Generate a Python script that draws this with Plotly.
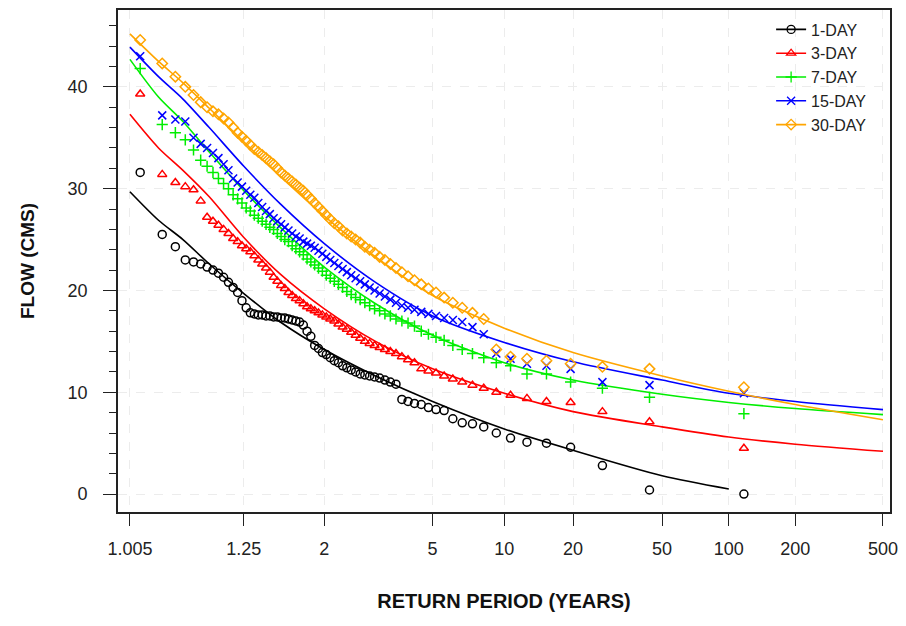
import numpy as np
import plotly.graph_objects as go

# ---------------- data ----------------
N_YEARS = 70  # observations per series (ranked, lowest flow first)

SERIES_NAMES = ["1-DAY", "3-DAY", "7-DAY", "15-DAY", "30-DAY"]

ONE_DAY = [0.0, 0.4, 2.8, 4.6, 5.0, 5.1, 5.5, 6.0, 6.6, 6.9,
           7.0, 7.4, 8.2, 8.3, 8.5, 8.8, 8.9, 9.1, 9.3, 10.8,
           11.0, 11.2, 11.4, 11.5, 11.6, 11.7, 11.8, 12.0, 12.2, 12.4,
           12.6, 12.9, 13.1, 13.4, 13.7, 13.9, 14.3, 14.6, 15.5, 16.0,
           16.6, 16.9, 17.0, 17.1, 17.2, 17.3, 17.3, 17.4, 17.4, 17.5,
           17.5, 17.6, 17.6, 17.7, 17.8, 18.3, 19.0, 19.8, 20.3, 20.8,
           21.3, 21.7, 22.0, 22.3, 22.6, 22.8, 23.0, 24.3, 25.5, 31.6]

THREE_DAY = [4.5, 7.1, 8.1, 9.0, 9.1, 9.4, 9.7, 10.0, 10.4, 10.7,
             11.0, 11.3, 11.6, 11.9, 12.1, 12.3, 12.9, 13.2, 13.5, 13.8,
             14.0, 14.2, 14.4, 14.6, 14.8, 15.0, 15.3, 15.6, 15.9, 16.2,
             16.4, 16.7, 17.0, 17.2, 17.4, 17.6, 17.8, 18.0, 18.2, 18.4,
             18.7, 19.0, 19.2, 19.5, 19.8, 20.2, 20.5, 20.9, 21.3, 21.8,
             22.2, 22.6, 23.0, 23.4, 23.8, 24.1, 24.4, 24.8, 25.1, 25.6,
             26.0, 26.4, 26.8, 27.2, 28.8, 29.9, 30.2, 30.6, 31.4, 39.3]

SEVEN_DAY = [7.9, 9.5, 10.4, 11.0, 11.8, 11.8, 12.6, 12.9, 13.4, 13.8,
             14.2, 14.6, 15.1, 15.4, 15.7, 16.0, 16.5, 16.8, 17.0, 17.2,
             17.5, 17.7, 18.0, 18.2, 18.5, 18.8, 19.1, 19.3, 19.6, 19.9,
             20.3, 20.6, 20.9, 21.2, 21.5, 21.9, 22.2, 22.5, 22.8, 23.1,
             23.5, 23.8, 24.1, 24.4, 24.8, 25.0, 25.3, 25.6, 26.0, 26.2,
             26.5, 26.8, 27.1, 27.4, 27.8, 28.1, 28.6, 29.0, 29.4, 30.0,
             30.5, 31.0, 31.6, 32.2, 32.8, 33.8, 34.8, 35.5, 36.3, 41.8]

FIFTEEN_DAY = [9.9, 10.7, 11.0, 12.3, 12.6, 12.8, 13.3, 13.8, 15.7, 16.4,
               16.9, 17.1, 17.3, 17.5, 17.7, 17.9, 18.1, 18.3, 18.5, 18.8,
               19.1, 19.4, 19.7, 20.0, 20.3, 20.6, 20.9, 21.2, 21.5, 21.8,
               22.1, 22.4, 22.7, 23.0, 23.3, 23.6, 23.9, 24.2, 24.4, 24.6,
               24.8, 25.1, 25.3, 25.6, 25.9, 26.2, 26.5, 26.8, 27.1, 27.5,
               27.8, 28.2, 28.6, 29.1, 29.4, 29.8, 30.2, 30.6, 31.0, 31.8,
               32.4, 33.0, 33.5, 34.0, 34.4, 35.0, 36.6, 36.8, 37.2, 43.0]

THIRTY_DAY = [10.5, 12.3, 12.5, 12.8, 13.1, 13.3, 13.5, 14.2, 17.2, 17.8,
              18.3, 18.8, 19.3, 19.8, 20.2, 20.6, 21.0, 21.4, 21.8, 22.2,
              22.6, 23.0, 23.3, 23.7, 24.0, 24.3, 24.7, 25.0, 25.3, 25.6,
              25.9, 26.3, 26.6, 27.0, 27.4, 27.8, 28.2, 28.6, 29.0, 29.4,
              29.8, 30.1, 30.4, 30.7, 31.0, 31.3, 31.6, 32.0, 32.4, 32.7,
              33.0, 33.3, 33.6, 33.9, 34.3, 34.7, 35.1, 35.5, 36.0, 36.5,
              36.9, 37.3, 37.6, 38.0, 38.5, 39.2, 40.0, 41.0, 42.3, 44.6]

# fitted frequency curves (flow at given return period)
CURVE_T = [1.005, 1.02, 1.05, 1.11, 1.25, 1.5, 2, 3, 5, 10, 20, 50, 100, 200, 500]
CURVE_1 = [29.7, 26.9, 25.0, 22.6, 19.7, 16.9, 14.2, 11.6, 9.1, 6.4, 4.3, 1.8, 0.5]
CURVE_3 = [37.3, 34.0, 31.8, 29.2, 25.2, 21.6, 18.2, 15.0, 12.3, 9.9, 8.1, 6.6, 5.6, 4.9, 4.2]
CURVE_7 = [42.7, 39.0, 36.6, 33.6, 29.8, 26.2, 22.3, 18.7, 15.6, 12.9, 11.2, 9.8, 9.0, 8.4, 7.8]
CURVE_15 = [43.9, 41.0, 38.8, 36.0, 32.2, 28.5, 24.6, 20.8, 17.5, 14.9, 13.0, 11.2, 9.9, 9.1, 8.3]
CURVE_30 = [45.2, 42.5, 40.4, 37.9, 34.6, 31.2, 27.3, 23.3, 19.5, 16.3, 13.9, 11.6, 10.1, 8.8, 7.3]

TICK_T = [1.005, 1.25, 2, 5, 10, 20, 50, 100, 200, 500]
TICK_LABELS = ["1.005", "1.25", "2", "5", "10", "20", "50", "100", "200", "500"]

COLORS = ["#000000", "#FF0000", "#00EE00", "#0000FF", "#FFA500"]
SYMBOLS = ["circle-open", "triangle-up-open", "cross-thin-open", "x-thin-open", "diamond-open"]


# ---------------- helpers ----------------
def gumbel(T):
    T = np.asarray(T, dtype=float)
    return -np.log(-np.log(1.0 - 1.0 / T))


rank = np.arange(1, N_YEARS + 1)
T_obs = (N_YEARS + 0.2) / (rank - 0.4)  # Cunnane plotting position
x_obs = gumbel(T_obs)

obs = [ONE_DAY, THREE_DAY, SEVEN_DAY, FIFTEEN_DAY, THIRTY_DAY]
curves = [CURVE_1, CURVE_3, CURVE_7, CURVE_15, CURVE_30]

fig = go.Figure()

for name, q, c, col, sym in zip(SERIES_NAMES, obs, curves, COLORS, SYMBOLS):
    assert len(q) == N_YEARS
    cx = gumbel(CURVE_T[:len(c)])
    fig.add_trace(go.Scatter(
        x=cx, y=c, mode="lines", line=dict(color=col, width=1.6, shape="spline", smoothing=0.8),
        showlegend=False, hoverinfo="skip"))
    fig.add_trace(go.Scatter(
        x=x_obs, y=q, mode="markers",
        marker=dict(symbol=sym, size=8, color=col, line=dict(color=col, width=1.5)),
        showlegend=False))

# legend entries
for name, col, sym in zip(SERIES_NAMES, COLORS, SYMBOLS):
    fig.add_trace(go.Scatter(
        x=[None], y=[None], mode="lines+markers", name=name,
        line=dict(color=col, width=1.6),
        marker=dict(symbol=sym, size=8, color=col, line=dict(color=col, width=1.3))))

xt = gumbel(TICK_T)

fig.update_layout(
    width=906, height=626,
    margin=dict(l=118, r=14, t=8, b=114),
    paper_bgcolor="white", plot_bgcolor="white",
    font=dict(family="Liberation Sans, Arial, sans-serif", color="#222222"),
    showlegend=True,
    legend=dict(x=0.846, y=0.995, xanchor="left", yanchor="top",
                bgcolor="rgba(255,255,255,0)", borderwidth=0,
                font=dict(size=16, color="#222222"), tracegroupgap=0),
    xaxis=dict(
        range=[-1.793, 6.287], tickmode="array", tickvals=xt, ticktext=TICK_LABELS,
        ticks="outside", ticklen=12, tickwidth=1.3, tickcolor="#222222",
        ticklabelstandoff=8,
        showline=True, linecolor="#222222", linewidth=1.6, mirror=True,
        showgrid=True, gridcolor="#ececec", gridwidth=1, griddash="dash",
        zeroline=False, tickfont=dict(size=18),
        title=dict(text="<b>RETURN PERIOD (YEARS)</b>", font=dict(size=20, color="#111111"), standoff=36),
    ),
    yaxis=dict(
        range=[-1.76, 47.55], tickmode="array", tickvals=[0, 10, 20, 30, 40],
        ticks="outside", ticklen=13, tickwidth=1.3, tickcolor="#222222",
        ticklabelstandoff=12,
        minor=dict(dtick=2, tick0=0, ticks="outside", ticklen=7, tickwidth=1.3,
                   tickcolor="#222222", showgrid=False),
        showline=True, linecolor="#222222", linewidth=1.6, mirror=True,
        showgrid=True, gridcolor="#ececec", gridwidth=1, griddash="dash",
        zeroline=False, tickfont=dict(size=18),
        title=dict(text="<b>FLOW (CMS)</b>", font=dict(size=19, color="#111111"), standoff=28),
    ),
)

fig.write_html("out.html")
